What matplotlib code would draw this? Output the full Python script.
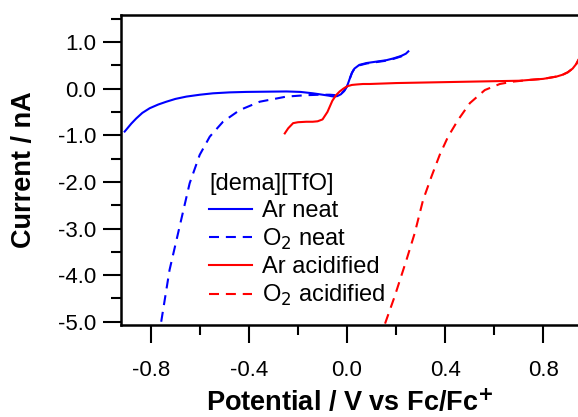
import matplotlib
matplotlib.use("Agg")
import matplotlib.pyplot as plt
from matplotlib.ticker import MultipleLocator

plt.rcParams['font.family'] = ['Liberation Sans', 'DejaVu Sans']

# Ar neat (blue solid)
ar_neat_v = [-0.907, -0.88, -0.86, -0.835, -0.805, -0.77, -0.737, -0.70, -0.655, -0.60, -0.547,
             -0.48, -0.411, -0.33, -0.247, -0.19, -0.139, -0.10, -0.075, -0.055, -0.04, -0.025,
             -0.012, 0.0, 0.01, 0.02, 0.03, 0.05, 0.08, 0.12, 0.16, 0.19, 0.22, 0.24, 0.25]
ar_neat_i = [-0.92, -0.75, -0.64, -0.52, -0.42, -0.34, -0.28, -0.22, -0.17, -0.13, -0.10,
             -0.08, -0.07, -0.065, -0.06, -0.07, -0.10, -0.13, -0.15, -0.17, -0.16, -0.12,
             -0.05, 0.05, 0.2, 0.34, 0.43, 0.51, 0.55, 0.58, 0.61, 0.65, 0.70, 0.75, 0.80]

# O2 neat (blue dashed)
o2_neat_v = [-0.758, -0.724, -0.683, -0.642, -0.601, -0.560, -0.506, -0.438, -0.356, -0.247,
             -0.166, -0.11, -0.07, -0.045, -0.025, -0.012, 0.0, 0.01, 0.02, 0.03, 0.05, 0.08,
             0.12, 0.16, 0.19, 0.22, 0.24]
o2_neat_i = [-5.0, -3.89, -2.96, -2.03, -1.42, -1.03, -0.71, -0.46, -0.28, -0.17,
             -0.14, -0.13, -0.13, -0.14, -0.11, -0.05, 0.05, 0.2, 0.34, 0.43, 0.50, 0.54,
             0.57, 0.60, 0.64, 0.69, 0.74]

# Ar acidified (red solid)
ar_acid_v = [-0.254, -0.24, -0.22, -0.20, -0.166, -0.14, -0.12, -0.10, -0.08, -0.06, -0.045,
             -0.03, -0.015, 0.0, 0.02, 0.04, 0.065, 0.092, 0.2, 0.3, 0.4, 0.5, 0.6, 0.705,
             0.75, 0.80, 0.855, 0.88, 0.90, 0.92, 0.935, 0.945]
ar_acid_i = [-0.96, -0.85, -0.74, -0.72, -0.71, -0.71, -0.70, -0.66, -0.50, -0.26, -0.14,
             -0.06, 0.0, 0.05, 0.08, 0.09, 0.10, 0.10, 0.12, 0.13, 0.14, 0.15, 0.16, 0.17,
             0.19, 0.21, 0.26, 0.30, 0.35, 0.43, 0.53, 0.63]

# O2 acidified (red dashed)
o2_acid_v = [0.155, 0.194, 0.242, 0.276, 0.310, 0.344, 0.378, 0.412, 0.453, 0.501, 0.562,
             0.623, 0.676, 0.75, 0.80, 0.855, 0.88, 0.90, 0.92, 0.935, 0.945]
o2_acid_i = [-5.04, -4.46, -3.68, -3.10, -2.39, -1.89, -1.42, -1.03, -0.67, -0.31, -0.03,
             0.10, 0.15, 0.19, 0.21, 0.26, 0.30, 0.35, 0.43, 0.53, 0.63]

legend_title = "[dema][TfO]"
labels = ["Ar neat", "O$_2$ neat", "Ar acidified", "O$_2$ acidified"]

fig = plt.figure(figsize=(5.78, 4.17), dpi=100)
ax = fig.add_axes([121 / 578, 92 / 417, 457 / 578, 310 / 417])

dash = (4.8, 3.3)
ax.plot(ar_neat_v, ar_neat_i, color='#0000ff', lw=1.5, label=labels[0])
ax.plot(o2_neat_v, o2_neat_i, color='#0000ff', lw=1.5, dashes=dash, label=labels[1])
ax.plot(ar_acid_v, ar_acid_i, color='#ff0000', lw=1.5, label=labels[2])
ax.plot(o2_acid_v, o2_acid_i, color='#ff0000', lw=1.5, dashes=dash, label=labels[3])

ax.set_xlim(-0.922, 0.942)
ax.set_ylim(-5.07, 1.58)

ax.xaxis.set_major_locator(MultipleLocator(0.4))
ax.xaxis.set_minor_locator(MultipleLocator(0.2))
ax.yaxis.set_major_locator(MultipleLocator(1.0))
ax.yaxis.set_minor_locator(MultipleLocator(0.5))
ax.xaxis.set_major_formatter(lambda v, p: "%.1f" % v if abs(v) > 1e-9 else "0.0")
ax.yaxis.set_major_formatter(lambda v, p: "%.1f" % v if abs(v) > 1e-9 else "0.0")

ax.tick_params(which='major', direction='out', length=13, width=1.5, labelsize=16)
ax.tick_params(which='minor', direction='out', length=7, width=1.5)
ax.tick_params(axis='x', which='major', pad=12)
ax.tick_params(axis='y', which='major', pad=5)
ax.spines['right'].set_visible(False)
for s in ['left', 'top', 'bottom']:
    ax.spines[s].set_linewidth(1.8)

ax.set_xlabel("Potential / V vs Fc/Fc$^\\mathbf{+}$", fontsize=19.5, fontweight='bold', labelpad=6)
ax.set_ylabel("Current / nA", fontsize=19.5, fontweight='bold', labelpad=15)

leg = ax.legend(title=legend_title, frameon=False, fontsize=17, title_fontsize=17,
                handlelength=1.8, handletextpad=0.42, labelspacing=0.2,
                borderpad=0, borderaxespad=0,
                loc='upper left', bbox_to_anchor=(0.193, 0.49), alignment='left')

fig.savefig("out.png", dpi=100)
